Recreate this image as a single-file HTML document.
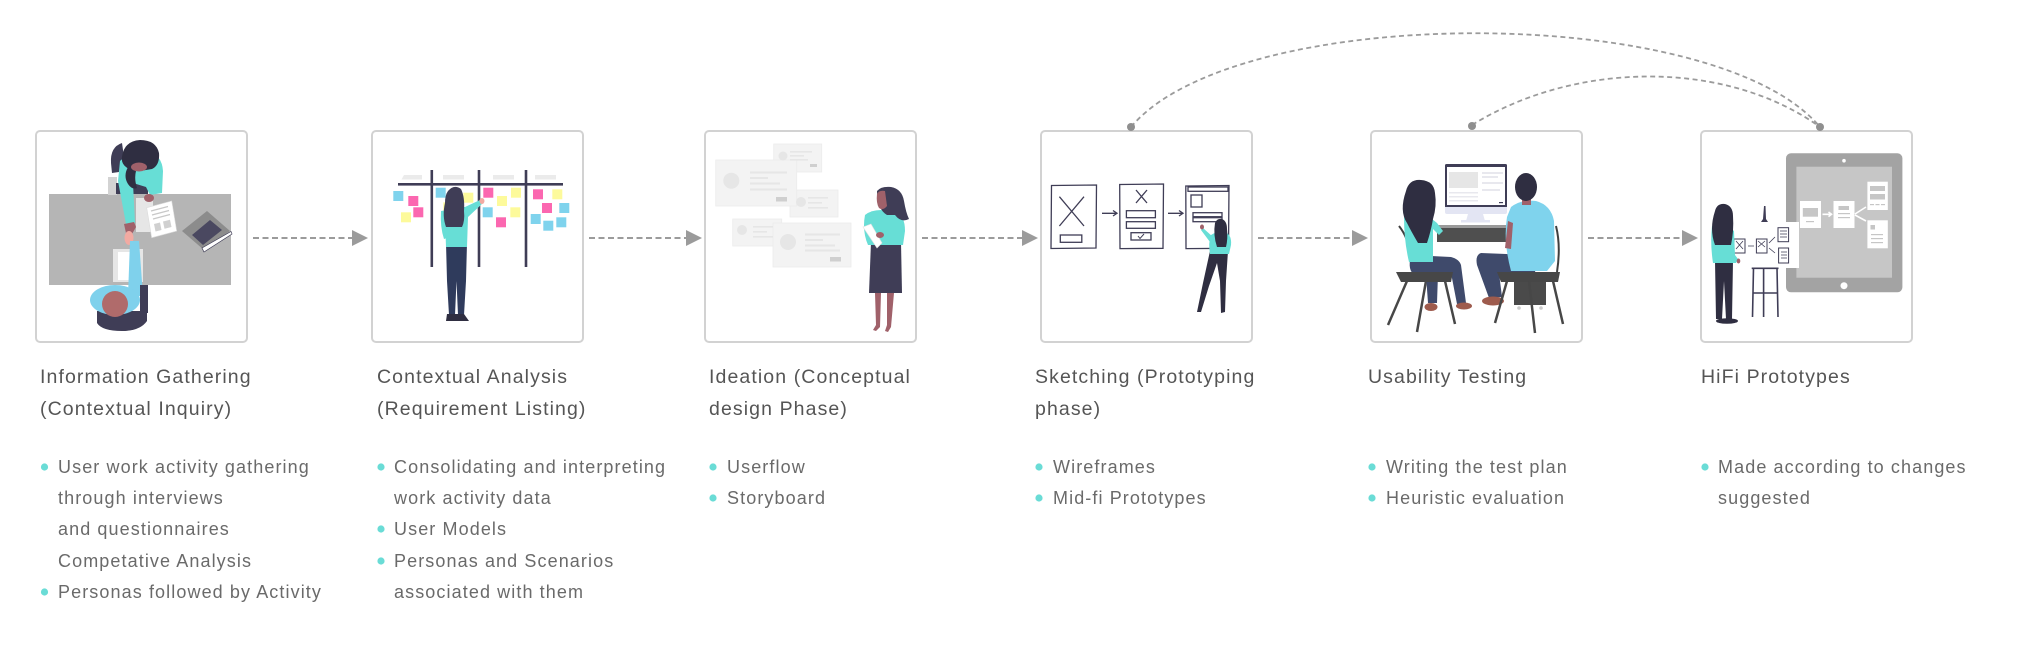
<!DOCTYPE html>
<html><head><meta charset="utf-8">
<style>
html,body{margin:0;padding:0;background:#fff;width:2024px;height:650px;overflow:hidden}
svg{display:block}
.t{font-family:"Liberation Sans",Arial,sans-serif;font-size:19.5px;letter-spacing:1.1px;fill:#555}
.b{font-family:"Liberation Sans",Arial,sans-serif;font-size:18px;letter-spacing:1.1px;fill:#6a6a6a}
</style></head><body>
<svg width="2024" height="650" viewBox="0 0 2024 650" xmlns="http://www.w3.org/2000/svg">
<rect width="2024" height="650" fill="#fff"/>

<!-- curved connectors -->
<g fill="none" stroke="#9b9b9b" stroke-width="1.8" stroke-dasharray="5 3.5">
<path d="M1131 127 C1236 2 1715 2 1820 127"/>
<path d="M1472 125 C1577 60 1727 60 1820 127"/>
</g>

<!-- boxes -->
<g fill="#fff" stroke="#d2d2d2" stroke-width="2">
<rect x="36" y="131" width="211" height="211" rx="4"/>
<rect x="372" y="131" width="211" height="211" rx="4"/>
<rect x="705" y="131" width="211" height="211" rx="4"/>
<rect x="1041" y="131" width="211" height="211" rx="4"/>
<rect x="1371" y="131" width="211" height="211" rx="4"/>
<rect x="1701" y="131" width="211" height="211" rx="4"/>
</g>
<g fill="#8f8f8f">
<circle cx="1131" cy="127" r="4"/>
<circle cx="1472" cy="126" r="4"/>
<circle cx="1820" cy="127" r="4"/>
</g>

<!-- horizontal arrows -->
<g stroke="#9b9b9b" stroke-width="2" stroke-dasharray="6 3.5" fill="none">
<path d="M253 238H352"/>
<path d="M589 238H686"/>
<path d="M922 238H1022"/>
<path d="M1258 238H1352"/>
<path d="M1588 238H1682"/>
</g>
<g fill="#9b9b9b">
<path d="M352 230L368 238L352 246Z"/>
<path d="M686 230L702 238L686 246Z"/>
<path d="M1022 230L1038 238L1022 246Z"/>
<path d="M1352 230L1368 238L1352 246Z"/>
<path d="M1682 230L1698 238L1682 246Z"/>
</g>

<!-- BOX 1 -->
<g transform="translate(36,131)">
<rect x="13" y="63" width="182" height="91" fill="#b5b5b5"/>
<path d="M75 32 Q74 16 86 12 L90 40 L76 42 Z" fill="#3f3d56"/>
<rect x="72" y="46" width="9" height="18" fill="#d3d3d3"/>
<rect x="80" y="52" width="32" height="11" fill="#3f3d56"/>
<path d="M84 30 Q96 18 112 20 Q126 24 127 40 L126 62 L114 64 L110 56 L97 52 L99 92 L90 93 L82 50 Z" fill="#67ded6"/>
<path d="M86 26 Q88 10 104 9 Q120 9 123 22 Q124 34 116 38 L104 40 Q95 40 90 36 Q85 32 86 26Z" fill="#2f2e41"/>
<path d="M92 36 Q87 45 92 53 Q96 59 101 57 Q98 48 100 40Z" fill="#2f2e41"/>
<ellipse cx="103" cy="36" rx="8" ry="4.5" fill="#a0616a"/>
<rect x="100" y="67" width="17" height="34" fill="#e6e6e6"/>
<path d="M110.7 76.7L135.7 70L140.7 100L115.7 106.7Z" fill="#fff" stroke="#dcdcdc" stroke-width="0.6"/>
<g stroke="#c8c8c8" stroke-width="1.2">
<path d="M115 80L132 75.5M116 84L133 79.5M117 88L134 83.5"/>
</g>
<path d="M118 93L124 91.5L125.5 99L119.5 100.5Z M127 90.5L134 88.8L135.5 96L128.5 97.8Z" fill="#d0d0d0"/>
<ellipse cx="113" cy="67" rx="5" ry="4" fill="#a0616a"/>
<path d="M146 100L171 80L194 100L168 119Z" fill="#8c8c8c"/>
<path d="M156 104L174 89L186 99L167 114Z" fill="#4a4860"/>
<path d="M166 117L195 100.5L196 103L168 121Z" fill="#fff" stroke="#3f3d56" stroke-width="0.7"/>
<rect x="77" y="118" width="30" height="33" fill="#e6e6e6"/>
<rect x="82" y="121" width="18" height="28" fill="#fff"/>
<path d="M88 93 L98 91 L100 96 L96 103 L90 102Z" fill="#a0616a"/>
<ellipse cx="93" cy="107" rx="4.5" ry="7" fill="#f2aaa2"/>
<path d="M94 110 L103 110 L107 165 L92 165Z" fill="#7fd1ec"/>
<rect x="104" y="154" width="8" height="28" fill="#3f3d56"/>
<path d="M61 180 L111 180 L111 190 Q104 200 86 200 Q66 200 61 192Z" fill="#3f3d56"/>
<ellipse cx="79" cy="169" rx="25" ry="15" fill="#7fd1ec"/>
<circle cx="79" cy="173" r="13" fill="#b06b6b"/>
</g>

<!-- BOX 2 -->
<g transform="translate(372,131)">
<g fill="#ebebeb">
<path d="M32 44H50V48.5H29.5Z"/>
<rect x="71" y="44" width="21" height="4.5"/>
<rect x="121" y="44" width="21" height="4.5"/>
<rect x="163" y="44" width="21" height="4.5"/>
</g>
<rect x="26" y="52" width="165" height="2.6" fill="#3f3d56"/>
<g fill="#3f3d56">
<rect x="58.5" y="39" width="2.6" height="97"/>
<rect x="105.7" y="39" width="2.6" height="97"/>
<rect x="152.7" y="39" width="2.6" height="97"/>
</g>
<g fill="#7fd3ed">
<rect x="21.3" y="60" width="10" height="10"/>
<rect x="63.7" y="56.7" width="10" height="10"/>
<rect x="110.7" y="76.3" width="10" height="10"/>
<rect x="187.3" y="72" width="10" height="10"/>
<rect x="158.7" y="83" width="10" height="10"/>
<rect x="171.3" y="89.7" width="10" height="10"/>
<rect x="184.3" y="86.3" width="10" height="10"/>
</g>
<g fill="#fb67b0">
<rect x="36.3" y="65" width="10" height="10"/>
<rect x="41.3" y="76.3" width="10" height="10"/>
<rect x="111.3" y="56.7" width="10" height="10"/>
<rect x="124" y="86.3" width="10" height="10"/>
<rect x="161" y="58.3" width="10" height="10"/>
<rect x="170" y="72" width="10" height="10"/>
</g>
<g fill="#fdfa9b">
<rect x="29" y="81.3" width="10" height="10"/>
<rect x="91.3" y="61.7" width="10" height="10"/>
<rect x="71.3" y="71.3" width="10" height="10"/>
<rect x="139" y="56.7" width="10" height="10"/>
<rect x="125" y="65" width="10" height="10"/>
<rect x="138.3" y="76.3" width="10" height="10"/>
<rect x="180.3" y="58.3" width="10" height="10"/>
</g>
<path d="M74 112 L95 112 L94 150 L92 184 L86 184 L84.5 150 L83 184 L77 184 L75 150 Z" fill="#2f3b5c"/>
<path d="M75 183 L86 183 L87 190 L74 190Z M84 183 L92 183 L97 190 L84 190Z" fill="#2f2e41"/>
<path d="M69 80 L76 79 L78 106 L72 108 Q68 96 69 80Z" fill="#67ded6"/>
<path d="M73 88 Q76 78 84 76 L93 76 L108 69 L111 72 L96 86 L95 116 L74 116 Z" fill="#67ded6"/>
<ellipse cx="110" cy="70" rx="2.5" ry="3" fill="#f2aaa2"/>
<path d="M76 60 Q82 53 89 58 Q93 66 92 80 Q93 90 90 96 L74 96 Q70 85 73 72 Q73 64 76 60 Z" fill="#3f3d56"/>
</g>

<!-- BOX 3 -->
<g transform="translate(705,131)">
<g fill="#f3f3f3" stroke="#ececec" stroke-width="0.8">
<rect x="68.7" y="13" width="48" height="28"/>
<rect x="85" y="59" width="48" height="27"/>
<rect x="10.7" y="29" width="81" height="46"/>
<rect x="27.7" y="88" width="49" height="27"/>
<rect x="68" y="92" width="78" height="44"/>
</g>
<g fill="#e6e6e6">
<circle cx="78" cy="25" r="4.5"/>
<rect x="85" y="20" width="22" height="1.6"/><rect x="85" y="24" width="14" height="1.6"/><rect x="85" y="28" width="18" height="1.6"/>
<circle cx="96" cy="71" r="5"/>
<rect x="103" y="66" width="20" height="1.6"/><rect x="103" y="71" width="14" height="1.6"/><rect x="103" y="76" width="20" height="1.6"/>
<circle cx="26.3" cy="49.7" r="8"/>
<rect x="45" y="40.5" width="37" height="2"/><rect x="45" y="46" width="18" height="2"/><rect x="45" y="51.5" width="30" height="2"/><rect x="45" y="57.5" width="37" height="2"/>
<circle cx="37" cy="99" r="5"/>
<rect x="48" y="95" width="20" height="1.6"/><rect x="48" y="100" width="14" height="1.6"/><rect x="48" y="105" width="20" height="1.6"/>
<circle cx="83" cy="111" r="8"/>
<rect x="100" y="102.5" width="35" height="2"/><rect x="100" y="108" width="18" height="2"/><rect x="100" y="113.5" width="30" height="2"/><rect x="100" y="118.5" width="35" height="2"/>
</g>
<g fill="#cfcfcf">
<rect x="71" y="66" width="11" height="4.5"/>
<rect x="125" y="126" width="11" height="4.5"/>
<rect x="105" y="33" width="7" height="3"/>
</g>
<path d="M170 162 L176 162 L175 196 L171 200 L168 199 L171 194Z M182 162 L189 162 L186 196 L183 201 L180 200 L182 194Z" fill="#a0616a"/>
<path d="M166 111 L196 111 L197 162 L164 162Z" fill="#3f3d56"/>
<path d="M160 84 Q166 79 176 79 L190 80 Q200 84 200 100 L198 114 L163 114 Q157 100 160 84Z" fill="#67ded6"/>
<path d="M158 96 L166 93 L177 112 L172 117Z" fill="#fff" stroke="#e0e0e0" stroke-width="0.6"/>
<ellipse cx="175" cy="104" rx="4" ry="3" fill="#a0616a"/>
<path d="M172 60 Q176 55 186 56 Q197 58 199 70 Q201 82 204 88 Q196 92 190 84 L182 84 Q172 78 172 60Z" fill="#3f3d56"/>
<path d="M172 63 Q174 59 180 60 L182 75 Q178 80 174 77 Q171 72 172 63Z" fill="#a0616a"/>
</g>

<!-- BOX 4 -->
<g transform="translate(1041,131)" fill="#fff" stroke="#3f3d56" stroke-width="1.3">
<path d="M10.5 54.5L55.5 54L55 117L10 117.5Z"/>
<path d="M18.4 65.7L43 95M43 65.7L18.4 95" fill="none"/>
<rect x="19.3" y="104" width="21.5" height="7.3"/>
<path d="M61 82.3H75M72 79.5L76 82.3L72 85" fill="none"/>
<path d="M78.7 53.5L122.5 53L122 117.3L79 117.6Z"/>
<path d="M95 59L106 72M106 59L95 72" fill="none"/>
<rect x="85.4" y="79.7" width="29" height="7"/>
<rect x="85.4" y="90.7" width="29" height="6.6"/>
<rect x="90" y="101.7" width="20" height="7.3"/>
<path d="M97 105L99 107.5L103 103" fill="none" stroke-width="1"/>
<path d="M127 82.3H141M138 79.5L142 82.3L138 85" fill="none"/>
<path d="M144.8 55L188 54.5L187.5 117.3L145 117.6Z"/>
<rect x="147" y="56" width="40" height="4.3"/>
<rect x="150" y="64" width="11" height="12"/>
<rect x="152" y="81.7" width="29" height="4"/>
<rect x="152" y="86.7" width="29" height="4"/>
<g stroke="none">
<path d="M169 120 L187 120 L185 150 L184 181 L180 182 L179 150 L176 132 L168 155 L160 181 L156 181 L162 152Z" fill="#2f2e41"/>
<path d="M170 104 Q176 100 184 101 Q191 104 190 114 L188 123 L169 123 Q167 112 170 104Z" fill="#67ded6"/>
<path d="M172 106 L162 97 L160 99 L169 111Z" fill="#67ded6"/>
<ellipse cx="161" cy="96" rx="2" ry="2.5" fill="#a0616a"/>
<path d="M174 92 Q176 87 181 88 Q186 90 186 98 Q187 108 185 116 L176 116 Q172 104 174 92Z" fill="#2f2e41"/>
</g>
</g>

<!-- BOX 5 -->
<g transform="translate(1371,131)">
<rect x="74" y="33" width="62" height="44" rx="1.5" fill="#3f3d56"/>
<rect x="76" y="36" width="58" height="38" fill="#fff"/>
<rect x="78" y="41" width="29" height="16" fill="#e6e6e6"/>
<g fill="#e8e8ee"><rect x="111" y="41" width="21" height="2"/><rect x="111" y="45" width="16" height="2"/><rect x="111" y="51" width="21" height="2"/><rect x="111" y="58" width="18" height="2"/><rect x="78" y="61" width="29" height="1.5"/><rect x="78" y="65" width="29" height="1.5"/><rect x="78" y="69" width="29" height="1.5"/></g>
<rect x="128" y="71" width="4" height="1.2" fill="#3f3d56"/>
<path d="M74 76H136V81Q136 83 134 83H76Q74 83 74 81Z" fill="#e3e5f3"/>
<path d="M97 83L112 83L114 90L95 90Z" fill="#e3e5f3"/>
<rect x="90" y="89" width="29" height="2.5" fill="#e3e5f3"/>
<rect x="66" y="94" width="73" height="3" fill="#9a9a9a"/>
<rect x="66" y="97" width="73" height="14" fill="#4f4f4f"/>
<!-- left chair -->
<path d="M28 95 Q40 110 43 141" fill="none" stroke="#3f3f3f" stroke-width="2"/>
<g stroke="#474747" stroke-width="2.5"><path d="M36 150L17 194M55 150L46 201M74 150L84 193"/></g>
<!-- woman -->
<path d="M40 124 L80 126 Q88 128 90 134 L95 172 L86 173 L80 142 L67 143 L66 172 L57 172 L55 144 L44 144 Q36 140 40 124Z" fill="#3f4a6b"/>
<ellipse cx="60" cy="176" rx="6.5" ry="4" fill="#9e5b4d"/>
<ellipse cx="93" cy="175" rx="8" ry="3.5" fill="#9e5b4d"/>
<path d="M33 86 Q40 82 56 84 L66 92 L72 100 L68 104 L62 98 L62 131 L38 131 Q33 110 33 86Z" fill="#67ded6"/>
<path d="M35 60 Q38 48 50 49 Q63 50 64 62 Q66 75 62 88 Q60 100 56 112 L47 112 Q40 100 36 92 Q28 80 35 60Z" fill="#2f2e41"/>
<path d="M25 141 L82 141 L80 151 L30 151Z" fill="#474747"/>
<!-- right chair back + tower -->
<rect x="143" y="147" width="32" height="27" fill="#4a4a4a"/>
<circle cx="148" cy="177" r="1.8" fill="#ccc"/><circle cx="170" cy="177" r="1.8" fill="#ccc"/>
<!-- man -->
<path d="M110 122 L162 124 Q168 130 164 141 L128 142 L131 166 L118 167 L106 134 Q104 124 110 122Z" fill="#3f4a6b"/>
<ellipse cx="122" cy="170" rx="11" ry="4.5" fill="#9e5b4d"/>
<path d="M140 76 Q150 68 165 70 Q180 74 183 90 L184 130 L176 140 L140 140 Q132 110 136 86Z" fill="#7fd3ed"/>
<path d="M137 90 L142 92 L140 118 L134 117Z" fill="#a0616a"/>
<rect x="151" y="66" width="9" height="8" fill="#a0616a"/>
<ellipse cx="155" cy="56" rx="11" ry="14" fill="#2f2e41"/>
<path d="M185 95 Q190 115 186 141" fill="none" stroke="#3f3f3f" stroke-width="2"/>
<path d="M126 141 L189 141 L187 151 L130 151Z" fill="#474747"/>
<g stroke="#474747" stroke-width="2.5"><path d="M136 150L124 192M158 150L164 202M182 150L192 193"/></g>
</g>

<!-- BOX 6 -->
<g transform="translate(1701,131)">
<rect x="85" y="22.3" width="116.4" height="139" rx="5" fill="#a3a3a3"/>
<rect x="95.4" y="35.7" width="95.6" height="111" fill="#c6c6c6"/>
<circle cx="143" cy="29.7" r="1.8" fill="#fff"/>
<circle cx="143" cy="154.7" r="3.5" fill="#fff"/>
<g fill="#fff">
<rect x="99" y="70" width="21" height="27"/>
<rect x="132.5" y="70" width="21" height="27"/>
<rect x="166.4" y="50.7" width="20.4" height="28.3"/>
<rect x="166.4" y="89.3" width="20.4" height="28"/>
</g>
<g fill="#c6c6c6">
<rect x="101.8" y="77" width="15.2" height="8.7"/>
<rect x="105" y="90" width="8" height="1.2"/>
<rect x="137.5" y="75" width="10.5" height="4"/>
<rect x="137" y="82" width="12" height="1.2"/><rect x="137" y="86" width="12" height="1.2"/>
<rect x="169" y="55" width="15" height="5"/><rect x="169" y="63" width="15" height="5.5"/>
<rect x="169" y="73" width="4" height="1.2"/><rect x="174.5" y="73" width="4" height="1.2"/><rect x="180" y="73" width="4" height="1.2"/>
<rect x="169.5" y="94" width="4.5" height="4.5"/>
<rect x="170" y="103" width="12" height="1.2"/><rect x="170" y="107" width="12" height="1.2"/><rect x="170" y="111" width="12" height="1.2"/>
</g>
<g stroke="#fff" stroke-width="1.6" fill="none"><path d="M121.5 83.3H130M127.5 81L130.5 83.3L127.5 85.6"/><path d="M154 83L165 76M154 84L165 90"/></g>
<rect x="31" y="91" width="67" height="46" fill="#fff"/>
<g fill="#fff" stroke="#3f3d56" stroke-width="1">
<rect x="33" y="108" width="11" height="14"/>
<rect x="55.4" y="108" width="10.6" height="14"/>
<rect x="77" y="96.7" width="10.6" height="14"/>
<rect x="77.6" y="117" width="10" height="15"/>
</g>
<g stroke="#3f3d56" stroke-width="0.8" fill="none">
<path d="M35 110L42 118M42 110L35 118M57 110L64 116M64 110L57 116M47 115H53M68 112L74 106M68 117L74 122"/>
<path d="M79 100H86M79 103H86M79 106H86M80 121H86M80 124H86M80 127H86"/>
</g>
<path d="M63 75 L64.5 75 L65 88 L67 91 L60 91 L62 88Z" fill="#3f3d56"/>
<g stroke="#3f3d56" stroke-width="1.6" fill="none">
<path d="M50.7 137.3H77.5"/>
<path d="M52.5 137L51.5 186M62.6 137V186M76 137L77 186M52 162H76"/>
</g>
<path d="M14 130 L32 130 L31 188 L25 188 L23 150 L21 188 L15 188Z" fill="#2f2e41"/>
<ellipse cx="26" cy="190" rx="11" ry="2.8" fill="#2f2e41"/>
<path d="M11 95 Q16 92 26 94 L33 100 L34 124 L37 128 L35 132 L12 132 Q9 112 11 95Z" fill="#67ded6"/>
<ellipse cx="37.5" cy="130" rx="1.8" ry="2.5" fill="#a0616a"/>
<path d="M14 80 Q16 72 24 73 Q32 75 32 85 Q33 100 30 114 L14 114 Q8 98 14 80Z" fill="#2f2e41"/>
</g>

<!-- TEXT -->
<g class="t">
<text x="40" y="383">Information Gathering</text>
<text x="40" y="415">(Contextual Inquiry)</text>
<text x="377" y="383">Contextual Analysis</text>
<text x="377" y="415">(Requirement Listing)</text>
<text x="709" y="383">Ideation (Conceptual</text>
<text x="709" y="415">design Phase)</text>
<text x="1035" y="383">Sketching (Prototyping</text>
<text x="1035" y="415">phase)</text>
<text x="1368" y="383">Usability Testing</text>
<text x="1701" y="383">HiFi Prototypes</text>
</g>
<g fill="#6adcd6">
<circle cx="44.5" cy="467" r="3.6"/><circle cx="44.5" cy="592" r="3.6"/>
<circle cx="381" cy="467" r="3.6"/><circle cx="381" cy="529" r="3.6"/><circle cx="381" cy="561" r="3.6"/>
<circle cx="713" cy="467" r="3.6"/><circle cx="713" cy="498" r="3.6"/>
<circle cx="1039" cy="467" r="3.6"/><circle cx="1039" cy="498" r="3.6"/>
<circle cx="1372" cy="467" r="3.6"/><circle cx="1372" cy="498" r="3.6"/>
<circle cx="1705" cy="467" r="3.6"/>
</g>
<g class="b">
<text x="58" y="473">User work activity gathering</text>
<text x="58" y="504">through interviews</text>
<text x="58" y="535">and questionnaires</text>
<text x="58" y="567">Competative Analysis</text>
<text x="58" y="598">Personas followed by Activity</text>
<text x="394" y="473">Consolidating and interpreting</text>
<text x="394" y="504">work activity data</text>
<text x="394" y="535">User Models</text>
<text x="394" y="567">Personas and Scenarios</text>
<text x="394" y="598">associated with them</text>
<text x="727" y="473">Userflow</text>
<text x="727" y="504">Storyboard</text>
<text x="1053" y="473">Wireframes</text>
<text x="1053" y="504">Mid-fi Prototypes</text>
<text x="1386" y="473">Writing the test plan</text>
<text x="1386" y="504">Heuristic evaluation</text>
<text x="1718" y="473">Made according to changes</text>
<text x="1718" y="504">suggested</text>
</g>
</svg>
</body></html>
